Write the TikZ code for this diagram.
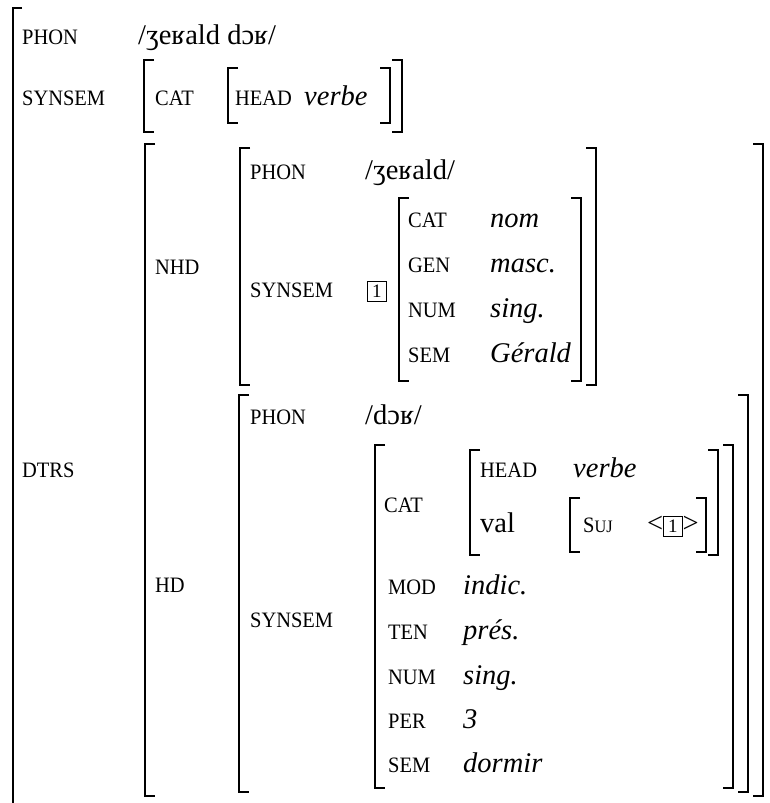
\documentclass[tikz,border=0pt]{standalone}
\usepackage{fontspec}
\setmainfont{Liberation Serif}
\newfontfamily\labfont[FakeStretch=0.93]{Liberation Serif}
\newcommand\avmL[3]{\draw[brk] ({#1+10},#2) -- (#1,#2) -- (#1,#3) -- ({#1+10},#3);}
\newcommand\avmR[3]{\draw[brk] ({#1-10},#2) -- (#1,#2) -- (#1,#3) -- ({#1-10},#3);}
\newcommand\avmBr[4]{\avmL{#1}{#3}{#4}\avmR{#2}{#3}{#4}}
\newcommand\tagone{{\fboxsep=0pt\fboxrule=0.7pt\fbox{\makebox[18pt]{\rule[-4pt]{0pt}{19pt}\normalfont\fontsize{19}{19}\selectfont 1}}}}
\begin{document}
\begin{tikzpicture}[x=1pt,y=-1pt,
  lab/.style={anchor=base west, inner sep=0pt, font=\labfont\fontsize{22}{22}\selectfont},
  val/.style={anchor=base west, inner sep=0pt, font=\fontsize{28.5}{28.5}\selectfont},
  ival/.style={anchor=base west, inner sep=0pt, font=\fontsize{28.5}{28.5}\selectfont\itshape},
  brk/.style={line width=2pt, line join=miter}]
\useasboundingbox (0,0) rectangle (769,803);
% outer bracket (open at bottom)
\draw[brk] (22,8) -- (13,8) -- (13,803);
% top level
\node[lab] (phon0) at (22,44) {PHON};
\node[val] (phon0v) at (138,44) {/ʒeʁald dɔʁ/};
\node[lab] (syn0) at (22,105) {SYNSEM};
\avmBr{144}{402}{60}{132}
\node[lab] (cat0) at (155,105) {CAT};
\avmBr{228}{390}{68}{123}
\node[lab] (head0) at (235,105) {HEAD};
\node[ival] (head0v) at (304,105) {verbe};
% DTRS
\node[lab] (dtrs) at (22,477) {DTRS};
\avmBr{145}{763}{144}{796}
% NHD
\node[lab] (nhd) at (155,274) {NHD};
\avmBr{240}{596}{148}{385}
\node[lab] (phon1) at (250,179) {PHON};
\node[val] (phon1v) at (365,179) {/ʒeʁald/};
\node[lab] (syn1) at (250,297) {SYNSEM};
\node[anchor=base west, inner sep=0pt] (tag1) at (367,297) {\tagone};
\avmBr{399}{581}{198}{381}
\node[lab] (cat1) at (408,227) {CAT};
\node[ival] (cat1v) at (490,227) {nom};
\node[lab] (gen1) at (408,272) {GEN};
\node[ival] (gen1v) at (490,272) {masc.};
\node[lab] (num1) at (408,317) {NUM};
\node[ival] (num1v) at (490,317) {sing.};
\node[lab] (sem1) at (408,362) {SEM};
\node[ival] (sem1v) at (490,362) {Gérald};
% HD
\node[lab] (hd) at (155,592) {HD};
\avmBr{239}{748}{395}{792}
\node[lab] (phon2) at (250,424) {PHON};
\node[val] (phon2v) at (365,424) {/dɔʁ/};
\node[lab] (syn2) at (250,627) {SYNSEM};
\avmBr{375}{733}{445}{788}
\node[lab] (cat2) at (384,512) {CAT};
\avmBr{470}{718}{450}{555}
\node[lab] (head2) at (480,477) {HEAD};
\node[ival] (head2v) at (573,477) {verbe};
\node[val] (val2) at (480,532) {val};
\avmBr{570}{706}{498}{552}
\node[lab] (suj2) at (583,532) {S{\fontsize{17.5}{17.5}\selectfont UJ}};
\node[val] (suj2v) at (647,532) {<\tagone>};
\node[lab] (mod2) at (388,594) {MOD};
\node[ival] (mod2v) at (463,594) {indic.};
\node[lab] (ten2) at (388,639) {TEN};
\node[ival] (ten2v) at (463,639) {prés.};
\node[lab] (num2) at (388,684) {NUM};
\node[ival] (num2v) at (463,684) {sing.};
\node[lab] (per2) at (388,728) {PER};
\node[ival] (per2v) at (463,728) {3};
\node[lab] (sem2) at (388,772) {SEM};
\node[ival] (sem2v) at (463,772) {dormir};
\end{tikzpicture}
\end{document}
